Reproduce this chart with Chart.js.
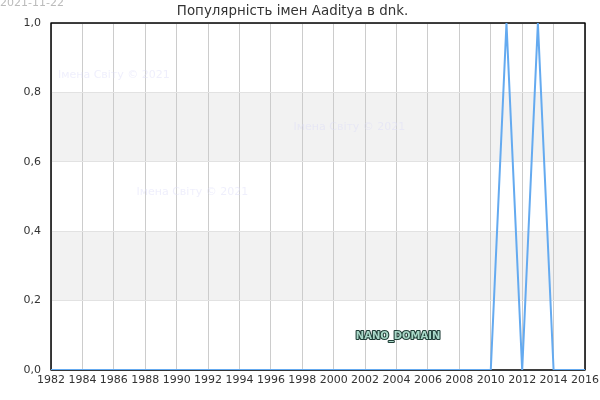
<!DOCTYPE html>
<html><head><meta charset="utf-8">
<script src="https://cdn.jsdelivr.net/npm/chart.js@4/dist/chart.umd.min.js"></script>
<style>html,body{margin:0;padding:0;background:#fff}#wrap{width:600px;height:400px}</style>
</head><body><div id="wrap"><canvas id="c" width="600" height="400"></canvas></div>
<script>
const titleText = "Популярність імен Aaditya в dnk.";
const dateText = "2021-11-22";
const years = [1982,1983,1984,1985,1986,1987,1988,1989,1990,1991,1992,1993,1994,1995,1996,1997,1998,1999,2000,2001,2002,2003,2004,2005,2006,2007,2008,2009,2010,2011,2012,2013,2014,2015,2016];
const values = [0,0,0,0,0,0,0,0,0,0,0,0,0,0,0,0,0,0,0,0,0,0,0,0,0,0,0,0,0,1,0,1,0,0,0];
const bands = [[0.2,0.4],[0.6,0.8]];
const watermarks = [["Імена Світу © 2021",1986.0,0.85],["Імена Світу © 2021",2001.0,0.70],["Імена Світу © 2021",1991.0,0.513]];
const stamp = ["NANO_DOMAIN",2004.1,0.098];

const F = "'DejaVu Sans', sans-serif";
const deco = {
  id:'deco',
  beforeDraw(chart){
    const {ctx, chartArea:a, scales:{x,y}} = chart;
    ctx.save();
    ctx.fillStyle = '#f2f2f2';
    bands.forEach(([lo,hi])=>{
      const y1 = y.getPixelForValue(hi), y2 = y.getPixelForValue(lo);
      ctx.fillRect(a.left, y1, a.right-a.left, y2-y1);
    });
    ctx.fillStyle = '#bbbbbb';
    ctx.font = '11px ' + F;
    ctx.textBaseline = 'top';
    ctx.textAlign = 'left';
    ctx.fillText(dateText, 0, -2);
    ctx.restore();
  },
  beforeDatasetsDraw(chart){
    const {ctx, chartArea:a, scales:{x,y}} = chart;
    ctx.save();
    ctx.font = '11px ' + F;
    ctx.fillStyle = 'rgba(220,220,248,0.45)';
    ctx.textAlign = 'center';
    ctx.textBaseline = 'middle';
    watermarks.forEach(([t,xv,yv])=>ctx.fillText(t, x.getPixelForValue(xv), y.getPixelForValue(yv)));
    ctx.font = 'bold 10px ' + F;
    const sx = x.getPixelForValue(stamp[1]), sy = y.getPixelForValue(stamp[2]);
    ctx.lineWidth = 2.2;
    ctx.strokeStyle = '#1f3d36';
    ctx.lineJoin = 'round';
    ctx.strokeText(stamp[0], sx, sy);
    ctx.fillStyle = '#a9d8c8';
    ctx.fillText(stamp[0], sx, sy);
    ctx.strokeStyle = '#000';
    ctx.lineWidth = 1.5;
    ctx.strokeRect(a.left, a.top, a.right-a.left, a.bottom-a.top);
    ctx.restore();
  }
};

new Chart(document.getElementById('c'), {
  type:'line',
  data:{ datasets:[{ data: years.map((yr,i)=>({x:yr,y:values[i]})), borderColor:'rgb(100,170,240)', borderWidth:2, pointRadius:0, tension:0, fill:false }]},
  options:{
    responsive:false, animation:false, devicePixelRatio:1,
    layout:{padding:{left:0,right:15,top:0,bottom:0}},
    plugins:{
      legend:{display:false}, tooltip:{enabled:false},
      title:{display:true, text:titleText, color:'#333', font:{family:F,size:13.4,weight:'normal'}, padding:{top:3,bottom:4}}
    },
    scales:{
      x:{ type:'linear', min:1982, max:2016,
        ticks:{stepSize:2, color:'#333', font:{family:F,size:11}, padding:4, maxRotation:0, autoSkip:false, callback:v=>String(v)},
        grid:{color:'#cccccc', drawTicks:false}, border:{display:false},
        afterFit(s){ s.height = 30; s.paddingRight = 0; s.paddingLeft = 0; } },
      y:{ min:0, max:1,
        ticks:{stepSize:0.2, color:'#333', font:{family:F,size:11}, padding:10, callback:v=>v.toFixed(1).replace('.',',')},
        grid:{color:'#e2e2e2', drawTicks:false}, border:{display:false},
        afterFit(s){ s.width = 51; s.paddingTop = 0; s.paddingBottom = 0; } }
    }
  },
  plugins:[deco]
});
</script></body></html>
